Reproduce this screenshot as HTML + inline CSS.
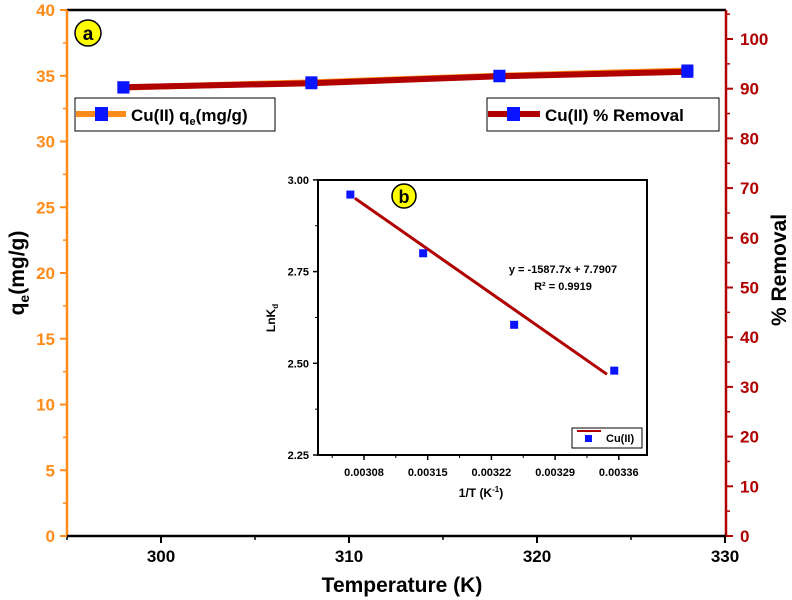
<!DOCTYPE html>
<html><head><meta charset="utf-8"><style>
body{margin:0;background:#fff}
svg{display:block;font-family:"Liberation Sans",Arial,sans-serif;font-weight:bold}
</style></head><body>
<svg id="c" width="792" height="600" viewBox="0 0 792 600"></svg>
<script>
const temps=[298,308,318,328];
const qe=[34.1,34.5,35.0,35.4];
const removal=[90.3,91.1,92.5,93.4];
const xTicks=[300,310,320,330];
const qTicks=[0,5,10,15,20,25,30,35,40];
const rTicks=[0,10,20,30,40,50,60,70,80,90,100];
const invT=[0.003065,0.003145,0.003245,0.003355];
const lnKd=[2.96,2.80,2.605,2.48];
const fitX=[0.00307,0.003347];
const fitY=[2.95,2.47];
const inXTicks=[0.00308,0.00315,0.00322,0.00329,0.00336];
const inXLabels=["0.00308","0.00315","0.00322","0.00329","0.00336"];
const inYTicks=[2.25,2.50,2.75,3.00];
const inYLabels=["2.25","2.50","2.75","3.00"];

const svg=document.getElementById('c');const NS="http://www.w3.org/2000/svg";
function mk(t,a,txt){const e=document.createElementNS(NS,t);for(const k in a)e.setAttribute(k,a[k]);if(txt!==undefined)e.textContent=txt;svg.appendChild(e);return e;}
const L=67,R=726;
const X=v=>161+(v-300)*18.8;
const YQ=v=>536-v*13.15;
const YR=v=>536-v*4.97;
const IX=v=>364+(v-0.00308)/0.00007*63.7;
const IY=v=>455-(v-2.25)/0.25*91.7;

let e=mk('line',{x1:L,y1:10,x2:R,y2:10,stroke:'#000','stroke-width':2.5});

e=mk('line',{x1:L,y1:10,x2:L,y2:536,stroke:'#ff8c1a','stroke-width':2.5});

e=mk('line',{x1:R,y1:10,x2:R,y2:536,stroke:'#b00000','stroke-width':2.5});

e=mk('line',{x1:L,y1:536,x2:R,y2:536,stroke:'#000','stroke-width':2.5});

xTicks.forEach(t=>{const x=X(t);
 e=mk('line',{x1:x,y1:536,x2:x,y2:543,stroke:'#000','stroke-width':2});
 
 e=mk('line',{x1:x-94,y1:536,x2:x-94,y2:540,stroke:'#000','stroke-width':1.5});
 
 e=mk('text',{x:x,y:562,'font-size':17,'text-anchor':'middle',fill:'#000'},String(t));
 });
qTicks.forEach(t=>{const y=YQ(t);
 e=mk('line',{x1:L-7,y1:y,x2:L,y2:y,stroke:'#ff8c1a','stroke-width':2});
 
 if(t<40){e=mk('line',{x1:L-4,y1:y-32.9,x2:L,y2:y-32.9,stroke:'#ff8c1a','stroke-width':1.5});
 }
 e=mk('text',{x:55,y:y+6,'font-size':17,'text-anchor':'end',fill:'#ff8c1a'},String(t));
 });
rTicks.forEach(t=>{const y=YR(t);
 e=mk('line',{x1:R,y1:y,x2:R+7,y2:y,stroke:'#b00000','stroke-width':2});
 
 e=mk('line',{x1:R,y1:y-24.85,x2:R+4,y2:y-24.85,stroke:'#b00000','stroke-width':1.5});
 
 e=mk('text',{x:740,y:y+6,'font-size':17,fill:'#b00000'},String(t));
 });
e=mk('text',{x:402,y:592,'font-size':21,'text-anchor':'middle'},'Temperature (K)');

e=mk('text',{transform:'translate(24,273) rotate(-90)','font-size':21,'text-anchor':'middle'});

e.innerHTML='q<tspan font-size="14" dy="5">e</tspan><tspan dy="-5">(mg/g)</tspan>';
e=mk('text',{transform:'translate(786,270) rotate(-90)','font-size':21,'text-anchor':'middle'},'% Removal');


e=mk('polyline',{points:temps.map((t,i)=>X(t)+','+YQ(qe[i])).join(' '),fill:'none',stroke:'#ff8c1a','stroke-width':6});

e=mk('polyline',{points:temps.map((t,i)=>X(t)+','+YR(removal[i])).join(' '),fill:'none',stroke:'#b00000','stroke-width':6});

temps.forEach((t,i)=>{
 e=mk('rect',{x:X(t)-6,y:YQ(qe[i])-6,width:12,height:12,fill:'#0a14ff'});
 
 e=mk('rect',{x:X(t)-6,y:YR(removal[i])-6,width:12,height:12,fill:'#0a14ff'});
 });

e=mk('circle',{cx:88,cy:33,r:13,fill:'#ffff00',stroke:'#000','stroke-width':1.5});

e=mk('text',{x:88,y:40,'font-size':19,'text-anchor':'middle'},'a');


e=mk('rect',{x:75,y:98,width:200,height:33,fill:'#fff',stroke:'#000','stroke-width':1});

e=mk('line',{x1:76,y1:114,x2:126,y2:114,stroke:'#ff8c1a','stroke-width':6});

e=mk('rect',{x:95,y:107,width:13,height:14,fill:'#0a14ff'});

e=mk('text',{x:131,y:121,'font-size':17});

e.innerHTML='Cu(II) q<tspan font-size="11" dy="4">e</tspan><tspan dy="-4">(mg/g)</tspan>';
e=mk('rect',{x:487,y:98,width:232,height:33,fill:'#fff',stroke:'#000','stroke-width':1});

e=mk('line',{x1:488,y1:114,x2:540,y2:114,stroke:'#b00000','stroke-width':6});

e=mk('rect',{x:507,y:107,width:13,height:14,fill:'#0a14ff'});

e=mk('text',{x:545,y:121,'font-size':17},'Cu(II) % Removal');


e=mk('rect',{x:318,y:180,width:329,height:275,fill:'#fff',stroke:'#000','stroke-width':2});

inXTicks.forEach((t,i)=>{const x=IX(t);
 e=mk('line',{x1:x,y1:455,x2:x,y2:460,stroke:'#000','stroke-width':1.5});
 
 e=mk('line',{x1:x-31.85,y1:455,x2:x-31.85,y2:458,stroke:'#000','stroke-width':1});
 
 e=mk('text',{x:x,y:476,'font-size':11,'text-anchor':'middle'},inXLabels[i]);
 });
inYTicks.forEach((t,i)=>{const y=IY(t);
 e=mk('line',{x1:313,y1:y,x2:318,y2:y,stroke:'#000','stroke-width':1.5});
 
 if(i<3){e=mk('line',{x1:315,y1:y-45.85,x2:318,y2:y-45.85,stroke:'#000','stroke-width':1});
 }
 e=mk('text',{x:309,y:y+4,'font-size':11,'text-anchor':'end'},inYLabels[i]);
 });
e=mk('text',{x:481,y:497,'font-size':12,'text-anchor':'middle'});

e.innerHTML='1/T (K<tspan font-size="8" dy="-5">-1</tspan><tspan dy="5">)</tspan>';
e=mk('text',{transform:'translate(275,318) rotate(-90)','font-size':12,'text-anchor':'middle'});

e.innerHTML='LnK<tspan font-size="8" dy="3">d</tspan>';
e=mk('line',{x1:IX(fitX[0]),y1:IY(fitY[0]),x2:IX(fitX[1]),y2:IY(fitY[1]),stroke:'#b00000','stroke-width':3});

invT.forEach((t,i)=>{
 e=mk('rect',{x:IX(t)-4,y:IY(lnKd[i])-4,width:8,height:8,fill:'#0a14ff'});
 });
e=mk('circle',{cx:404,cy:196,r:12,fill:'#ffff00',stroke:'#000','stroke-width':1.5});

e=mk('text',{x:404,y:203,'font-size':18,'text-anchor':'middle'},'b');

e=mk('text',{x:563,y:273,'font-size':11,'text-anchor':'middle'},'y = -1587.7x + 7.7907');

e=mk('text',{x:563,y:290,'font-size':11,'text-anchor':'middle'},'R² = 0.9919');

e=mk('rect',{x:572,y:428,width:70,height:20,fill:'#fff',stroke:'#000','stroke-width':1});

e=mk('line',{x1:577,y1:431,x2:601,y2:431,stroke:'#b00000','stroke-width':2});

e=mk('rect',{x:585,y:435,width:7,height:7,fill:'#0a14ff'});

e=mk('text',{x:606,y:442,'font-size':11},'Cu(II)');

</script>
</body></html>
